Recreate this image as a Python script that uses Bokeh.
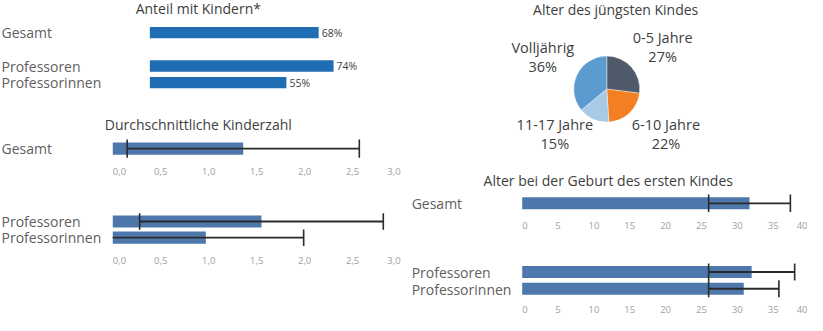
import math
from bokeh.plotting import figure
from bokeh.models import Range1d
from bokeh.core.properties import value
from bokeh.embed import file_html
from bokeh.resources import INLINE

# ---------------- data ----------------
share_cats = ["Gesamt", "Professoren", "Professorinnen"]
share_pct = [68, 74, 55]

kids_cats_total = ["Gesamt"]
kids_mean_total = [1.36]
kids_sd_total = [1.21]
kids_cats_prof = ["Professoren", "Professorinnen"]
kids_mean_prof = [1.55, 0.97]
kids_sd_prof = [1.27, 1.02]
kids_ticks = [0.0, 0.5, 1.0, 1.5, 2.0, 2.5, 3.0]
kids_tick_labels = ["0,0", "0,5", "1,0", "1,5", "2,0", "2,5", "3,0"]

pie_cats = ["0-5 Jahre", "6-10 Jahre", "11-17 Jahre", "Volljährig"]
pie_pct = [27, 22, 15, 36]

age_cats_total = ["Gesamt"]
age_mean_total = [31.7]
age_sd_total = [5.7]
age_cats_prof = ["Professoren", "Professorinnen"]
age_mean_prof = [32.0, 30.9]
age_sd_prof = [6.0, 4.9]
age_ticks = [0, 5, 10, 15, 20, 25, 30, 35, 40]
age_tick_labels = ["0", "5", "10", "15", "20", "25", "30", "35", "40"]

# ---------------- layout / style ----------------
W, H = 807, 315
FONT = value("Open Sans")
SX, SY = 0.989, 0.968   # fit the layout into the canvas


def X(rx):
    """layout x (px) -> canvas x"""
    return 1 + (rx - 7) * SX


def Y(ry):
    """layout y (px, downwards) -> data y (upwards)"""
    return H - (ry - 5) * SY


PCT_X0, PCT_PX = X(157.0), 2.51 * SX
KIDS_X0, KIDS_PX = X(119.5), 97.0 * SX
AGE_X0, AGE_PX = X(533.5), 7.25 * SX

p = figure(width=W, height=H, output_backend="svg", toolbar_location=None,
           x_range=Range1d(0, W), y_range=Range1d(0, H),
           x_axis_location=None, y_axis_location=None, min_border=0)
p.grid.visible = False
p.outline_line_color = None
p.background_fill_color = "white"
p.border_fill_color = "white"


def rng(x0, px):
    return Range1d((0 - x0) / px, (W - x0) / px)


p.extra_x_ranges = {"pct": rng(PCT_X0, PCT_PX),
                    "kids": rng(KIDS_X0, KIDS_PX),
                    "age": rng(AGE_X0, AGE_PX)}

TITLE_C = "#404040"
LABEL_C = "#606060"
TICK_C = "#a0a0a0"
WHISK_C = "#2a2a2a"


def title(text, x, ry):
    p.text(x=[X(x)], y=[Y(ry)], text=[text], text_font=FONT, text_font_size="14px",
           text_color=TITLE_C, text_align="center", text_baseline="middle")


def row_labels(cats, x, rows_ry):
    p.text(x=[X(x)] * len(cats), y=[Y(r) for r in rows_ry], text=cats, text_font=FONT,
           text_font_size="14px", text_color=LABEL_C, text_align="left",
           text_baseline="middle")


def ticks(vals, labels, rname, ry):
    r = p.extra_x_ranges[rname]
    xs = [min(max(v, r.start), r.end) for v in vals]
    yy = Y(ry)
    common = dict(text_font=FONT, text_font_size="9.5px", text_color=TICK_C,
                  text_baseline="middle", x_range_name=rname)
    p.text(x=[xs[0]], y=[yy], text=[labels[0]], text_align="left", **common)
    p.text(x=xs[1:-1], y=[yy] * (len(xs) - 2), text=labels[1:-1], text_align="center", **common)
    p.text(x=[xs[-1]], y=[yy], text=[labels[-1]], text_align="right", **common)


def bars_with_sd(means, sds, rows_ry, rname, color, bar_h, cap_h):
    ys = [Y(r) for r in rows_ry]
    p.hbar(y=ys, left=0, right=means, height=bar_h * SY, x_range_name=rname,
           fill_color=color, line_color=None)
    lo = [m - s for m, s in zip(means, sds)]
    hi = [m + s for m, s in zip(means, sds)]
    lo_draw = [max(v, 0) for v in lo]
    p.segment(x0=lo_draw, x1=hi, y0=ys, y1=ys, x_range_name=rname,
              line_color=WHISK_C, line_width=1.8)
    cap_x, cap_y = [], []
    for v, yv in zip(lo + hi, ys + ys):
        if v >= 0:
            cap_x.append(v)
            cap_y.append(yv)
    half = cap_h * SY / 2
    p.segment(x0=cap_x, x1=cap_x, y0=[c - half for c in cap_y],
              y1=[c + half for c in cap_y], x_range_name=rname,
              line_color=WHISK_C, line_width=1.6)


# ---------- Panel: Anteil mit Kindern ----------
title("Anteil mit Kindern*", 206, 13.5)
share_rows = [38.2, 72.7, 89.8]
row_labels(share_cats, 7, share_rows)
sy = [Y(r) for r in share_rows]
p.hbar(y=sy, left=0, right=share_pct, height=11.8 * SY, x_range_name="pct",
       fill_color="#1f6db3", line_color=None)
p.text(x=share_pct, y=sy, text=[f"{v}%" for v in share_pct], x_range_name="pct",
       x_offset=3, text_font=FONT, text_font_size="10.5px", text_color="#404040",
       text_align="left", text_baseline="middle")

# ---------- Panel: Durchschnittliche Kinderzahl ----------
BAR_C = "#4e78ab"
title("Durchschnittliche Kinderzahl", 206, 133)
kt_rows = [158]
row_labels(kids_cats_total, 7, kt_rows)
bars_with_sd(kids_mean_total, kids_sd_total, kt_rows, "kids", BAR_C, 12.5, 19)
ticks(kids_ticks, kids_tick_labels, "kids", 182)

kp_rows = [233.3, 250]
row_labels(kids_cats_prof, 7, kp_rows)
bars_with_sd(kids_mean_prof, kids_sd_prof, kp_rows, "kids", BAR_C, 12.5, 17)
ticks(kids_ticks, kids_tick_labels, "kids", 273.5)

# ---------- Panel: Alter des jüngsten Kindes (pie) ----------
title("Alter des jüngsten Kindes", 628, 14)
PIE_COLORS = ["#4f5a6a", "#f28022", "#a8cae6", "#5b9bd0"]
total = sum(pie_pct)
starts, ends = [], []
cum = 0.0
for v in pie_pct:
    starts.append(math.pi / 2 - 2 * math.pi * cum / total)
    cum += v
    ends.append(math.pi / 2 - 2 * math.pi * cum / total)
p.wedge(x=X(619), y=Y(96.5), radius=33, radius_units="screen",
        start_angle=starts, end_angle=ends, direction="clock",
        fill_color=PIE_COLORS, line_color="white", line_width=0.4)
pie_label_pos = [(675.5, 43.3), (678.8, 133.3), (566.5, 133.3), (554.3, 53.3)]
p.text(x=[X(q[0]) for q in pie_label_pos], y=[Y(q[1]) for q in pie_label_pos],
       text=pie_cats, text_font=FONT, text_font_size="14.5px", text_color="#404040",
       text_align="center", text_baseline="middle")
p.text(x=[X(q[0]) for q in pie_label_pos], y=[Y(q[1] + 19.5) for q in pie_label_pos],
       text=[f"{v}%" for v in pie_pct], text_font=FONT, text_font_size="14.5px",
       text_color="#404040", text_align="center", text_baseline="middle")

# ---------- Panel: Alter bei der Geburt des ersten Kindes ----------
title("Alter bei der Geburt des ersten Kindes", 620.5, 190.5)
at_rows = [214.5]
row_labels(age_cats_total, 421.7, at_rows)
bars_with_sd(age_mean_total, age_sd_total, at_rows, "age", BAR_C, 12.3, 18)
ticks(age_ticks, age_tick_labels, "age", 237)

ap_rows = [285.5, 302.8]
row_labels(age_cats_prof, 421.7, [286.5, 303.5])
bars_with_sd(age_mean_prof, age_sd_prof, ap_rows, "age", BAR_C, 12.3, 17.5)
ticks(age_ticks, age_tick_labels, "age", 324)

open("out.html", "w").write(file_html(p, INLINE))
